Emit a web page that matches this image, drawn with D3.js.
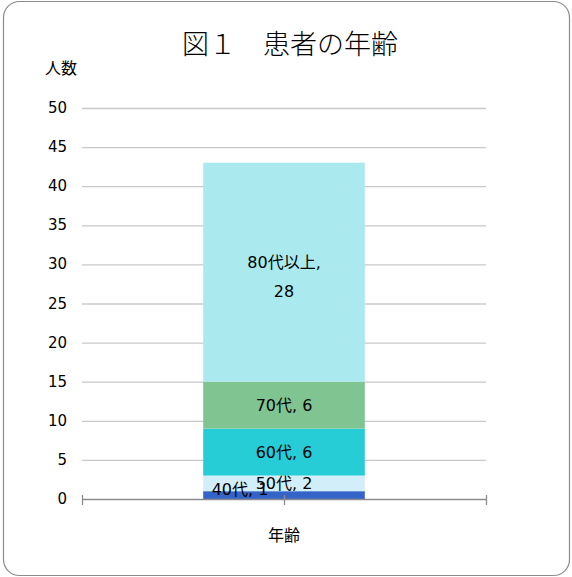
<!DOCTYPE html>
<html>
<head>
<meta charset="utf-8">
<script src="https://cdn.jsdelivr.net/npm/d3@7"></script>
<style>
  html, body { margin: 0; padding: 0; background: #fff; }
  svg text { font-family: "DejaVu Sans", "Noto Sans CJK JP", sans-serif; fill: #000; }
  svg text.title { font-family: "Noto Sans CJK JP", sans-serif; font-weight: 300; }
</style>
</head>
<body>
<svg id="chart" width="572" height="577"></svg>
<script>
// Age groups of patients, stacked in one column
const categories = ["年齢"];
const groups = ["40代", "50代", "60代", "70代", "80代以上"];
const counts = [1, 2, 6, 6, 28];
const colors = ["#3464c8", "#d2eef8", "#26cdd6", "#80c492", "#aaeaee"];
const yTicks = [0, 5, 10, 15, 20, 25, 30, 35, 40, 45, 50];

const svg = d3.select("#chart");

// outer frame
svg.append("rect")
  .attr("x", 3.5).attr("y", 1.5).attr("width", 566).attr("height", 574)
  .attr("rx", 16).attr("ry", 16)
  .attr("fill", "#fff").attr("stroke", "#8c8c8c").attr("stroke-width", 1.2);

const plotLeft = 82, plotRight = 486, plotTop = 108, plotBottom = 499;

const y = d3.scaleLinear().domain([0, 50]).range([plotBottom, plotTop]);
const x = d3.scaleBand().domain(categories).range([plotLeft, plotRight]).paddingInner(0).paddingOuter(0.75);

// grid lines
svg.append("g").selectAll("line")
  .data(yTicks.filter(t => t > 0))
  .join("line")
  .attr("x1", plotLeft).attr("x2", plotRight)
  .attr("y1", d => y(d) + 0.5).attr("y2", d => y(d) + 0.5)
  .attr("stroke", "#c8c8c8").attr("stroke-width", 1.3);

// stacked segments
let acc = 0;
const segs = counts.map((v, i) => {
  const s = { group: groups[i], value: v, y0: acc, y1: acc + v, color: colors[i] };
  acc += v;
  return s;
});

const bx = x(categories[0]);
const bw = x.bandwidth();

svg.append("g").selectAll("rect")
  .data(segs)
  .join("rect")
  .attr("x", bx).attr("width", bw)
  .attr("y", d => y(d.y1)).attr("height", d => y(d.y0) - y(d.y1))
  .attr("fill", d => d.color);

// x axis line with ticks
const axisG = svg.append("g");
axisG.append("line")
  .attr("x1", plotLeft).attr("x2", plotRight)
  .attr("y1", plotBottom + 0.5).attr("y2", plotBottom + 0.5)
  .attr("stroke", "#8c8c8c").attr("stroke-width", 1.3);
[plotLeft, bx + bw / 2, plotRight].forEach(px => {
  axisG.append("line")
    .attr("x1", px + 0.5).attr("x2", px + 0.5)
    .attr("y1", plotBottom - 4).attr("y2", plotBottom + 6)
    .attr("stroke", "#8c8c8c").attr("stroke-width", 1.3);
});

// y tick labels
svg.append("g").selectAll("text")
  .data(yTicks)
  .join("text")
  .attr("x", 67).attr("y", d => y(d))
  .attr("text-anchor", "end").attr("dominant-baseline", "central")
  .attr("font-size", 15)
  .text(d => d);

// segment labels
const labelG = svg.append("g").attr("font-size", 16);
segs.forEach((d, i) => {
  const cy = y((d.y0 + d.y1) / 2);
  if (d.group === "80代以上") {
    const t = labelG.append("text").attr("text-anchor", "middle").attr("x", bx + bw / 2);
    t.append("tspan").attr("x", bx + bw / 2).attr("y", cy - 10).attr("dominant-baseline", "central").text(d.group + ",");
    t.append("tspan").attr("x", bx + bw / 2).attr("y", cy + 19).attr("dominant-baseline", "central").text(d.value);
  } else {
    let cx = bx + bw / 2, ty = cy;
    if (d.group === "40代") { cx = 240; ty = cy - 6; }
    labelG.append("text")
      .attr("x", cx).attr("y", ty)
      .attr("text-anchor", "middle").attr("dominant-baseline", "central")
      .text(d.group + ", " + d.value);
  }
});

// title and axis titles
svg.append("text")
  .attr("class", "title")
  .attr("x", 290).attr("y", 42)
  .attr("text-anchor", "middle").attr("dominant-baseline", "central")
  .attr("font-size", 27)
  .text("図１　患者の年齢");

svg.append("text")
  .attr("x", 61).attr("y", 68)
  .attr("text-anchor", "middle").attr("dominant-baseline", "central")
  .attr("font-size", 16)
  .text("人数");

svg.append("text")
  .attr("x", bx + bw / 2).attr("y", 535)
  .attr("text-anchor", "middle").attr("dominant-baseline", "central")
  .attr("font-size", 16)
  .text(categories[0]);
</script>
</body>
</html>
